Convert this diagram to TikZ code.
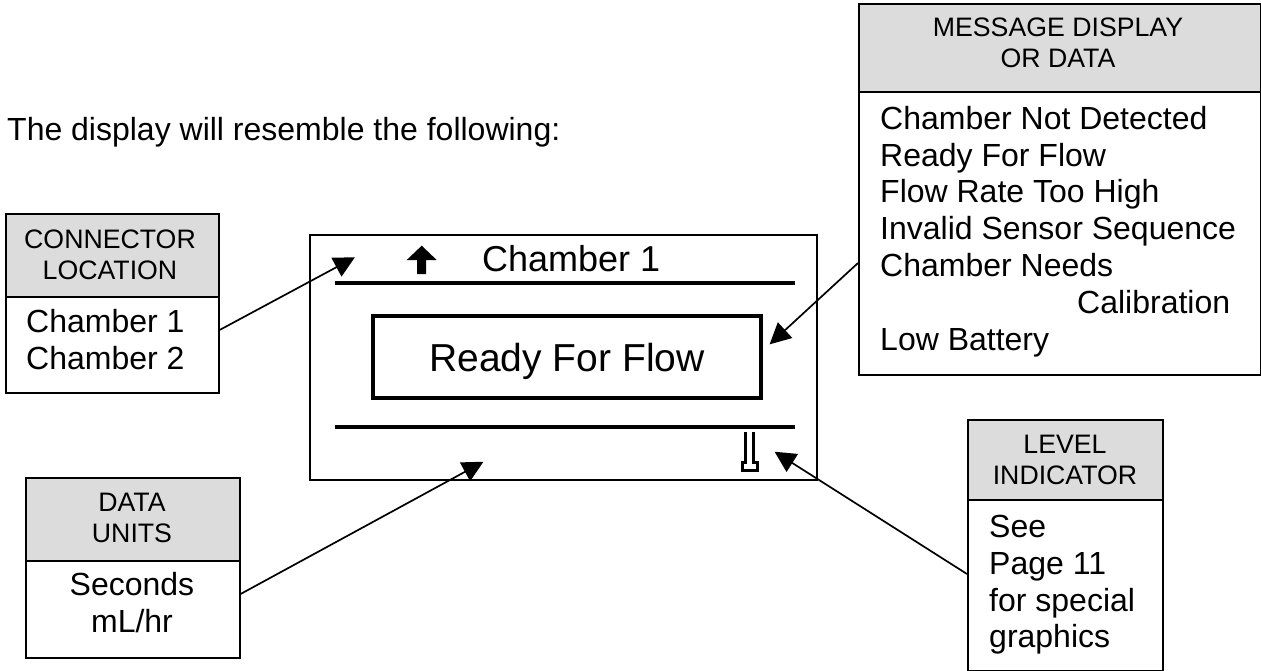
\documentclass[tikz,border=0pt]{standalone}
\usepackage{fontspec}
\setmainfont{Liberation Sans}
\usetikzlibrary{arrows.meta,positioning}
\definecolor{headgrey}{HTML}{DCDCDC}
\tikzset{
  box/.style={draw=black,line width=1.6pt,inner sep=0pt,anchor=north west},
  head/.style={box,fill=headgrey},
  headtxt/.style={font=\fontsize{26.7}{30.5}\selectfont,align=center,inner sep=0pt},
  bodytxt/.style={font=\fontsize{32}{36.8}\selectfont,inner sep=0pt},
  ptr/.style={draw=black,line width=1.7pt,-{Triangle[length=21pt,width=21pt]},shorten >=-0.5pt},
  dline/.style={draw=black,line width=3.4pt},
}
\begin{document}
\begin{tikzpicture}[x=1pt,y=-1pt]
\useasboundingbox (0,0) rectangle (1261,671);
\node[anchor=base west,inner sep=0pt,font=\fontsize{32}{36}\selectfont] (intro) at (7,141) {The display will resemble the following:};
% display
\node[box,minimum width=507pt,minimum height=245pt] (disp) at (309,234) {};
\coordinate (l1a) at (335,283); \coordinate (l1b) at (795,283);
\coordinate (l2a) at (335,427); \coordinate (l2b) at (795,427);
\draw[dline] (l1a) -- (l1b);
\draw[dline] (l2a) -- (l2b);
\node[box,line width=3.8pt,minimum width=388pt,minimum height=82pt,anchor=center] (ready) at (567,357) {};
\node[anchor=base,inner sep=0pt,font=\fontsize{39}{42}\selectfont] (readyt) at (ready.center |- 0,371) {Ready For Flow};
\node[anchor=base west,inner sep=0pt,font=\fontsize{36}{40}\selectfont] (ch) at (482,272) {Chamber 1};
\fill (421.7,245.7) -- (436.7,260) -- (426,260) -- (426,274) -- (417,274) -- (417,260) -- (406.7,260) -- cycle;
\draw[line width=2.8pt] (745.5,432) -- (745.5,462.5) -- (742.5,462.5) -- (742.5,470.5) -- (757.5,470.5) -- (757.5,462.5) -- (753.5,462.5) -- (753.5,432);
% connector
\node[head,minimum width=213pt,minimum height=83pt] (conh) at (5,213) {};
\node[box,minimum width=213pt,minimum height=96pt] (conb) at (5,296) {};
\node[headtxt] (cont) at (110,255) {CONNECTOR\\LOCATION};
\node[bodytxt,anchor=north west,align=left] (conl) at (26,309) {Chamber 1\\Chamber 2};
% message
\node[head,minimum width=402pt,minimum height=88pt] (msgh) at (858,3) {};
\node[box,minimum width=402pt,minimum height=283pt] (msgb) at (858,91) {};
\node[headtxt] (msgt) at (1058,43) {MESSAGE DISPLAY\\OR DATA};
\node[bodytxt,anchor=north west,align=left] (msgl) at (880,106) {Chamber Not Detected\\Ready For Flow\\Flow Rate Too High\\Invalid Sensor Sequence\\Chamber Needs\\\hspace*{197pt}Calibration\\Low Battery};
% data units
\node[head,minimum width=214pt,minimum height=83pt] (dath) at (25,477) {};
\node[box,minimum width=214pt,minimum height=97pt] (datb) at (25,560) {};
\node[headtxt] (datt) at (132,518) {DATA\\UNITS};
\node[bodytxt,anchor=north,align=center] (datl) at (132,572) {Seconds\\mL/hr};
% level
\node[head,minimum width=195pt,minimum height=80pt] (levh) at (967,419) {};
\node[box,minimum width=195pt,minimum height=171pt] (levb) at (967,499) {};
\node[headtxt] (levt) at (1065,460) {LEVEL\\INDICATOR};
\node[bodytxt,anchor=north west,align=left] (levl) at (989,515) {See\\Page 11\\for special\\graphics};
% pointers
\coordinate (p1) at (354.5,257.5);
\coordinate (p2) at (770,344);
\coordinate (p3) at (483,462);
\coordinate (p4) at (775,452);
\draw[ptr] (conb.east |- 0,330) -- (p1);
\draw[ptr] (msgb.west |- 0,263) -- (p2);
\draw[ptr] (datb.east |- 0,594) -- (p3);
\draw[ptr] (levb.west |- 0,574) -- (p4);
\end{tikzpicture}
\end{document}
